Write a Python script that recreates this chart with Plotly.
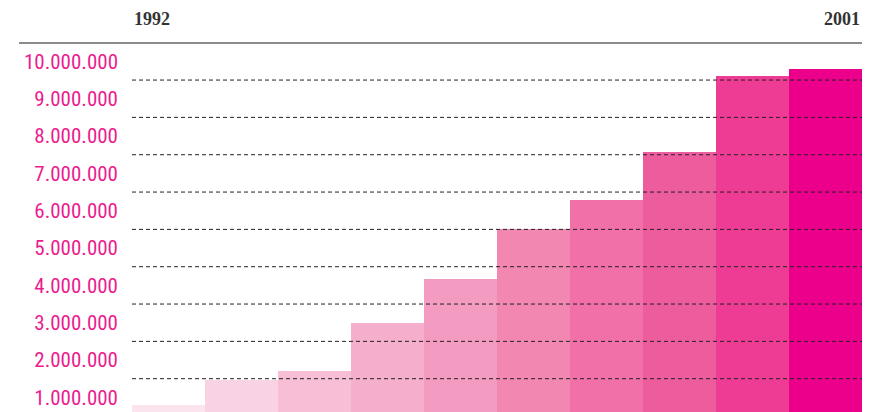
import plotly.graph_objects as go

years = [1992, 1993, 1994, 1995, 1996, 1997, 1998, 1999, 2000, 2001]
values = [800000, 1465000, 1705000, 3000000, 4180000, 5500000, 6290000, 7570000, 9610000, 9800000]
bar_colors = ["#FBE4EE", "#F9D3E3", "#F7BED6", "#F5AECC", "#F39BC0", "#F287B2",
              "#F070A7", "#ED5C9D", "#EE3B94", "#EC008B"]
tick_vals = [1000000 * i for i in range(1, 11)]
tick_text = ["1.000.000", "2.000.000", "3.000.000", "4.000.000", "5.000.000",
             "6.000.000", "7.000.000", "8.000.000", "9.000.000", "10.000.000"]
grid_vals = [1500000, 2500000, 3500000, 4500000, 5500000, 6500000, 7500000, 8500000, 9500000]
y_range = [608000, 10466000]

fig = go.Figure()
fig.add_trace(go.Bar(x=years, y=values, marker=dict(color=bar_colors, line=dict(width=0)),
                     width=1.0, hoverinfo="skip"))

shapes = []
for g in grid_vals:
    shapes.append(dict(type="line", xref="paper", yref="y", x0=0, x1=1, y0=g, y1=g,
                       line=dict(color="#222222", width=1, dash="4px,3px"), layer="above"))
shapes.append(dict(type="line", xref="paper", yref="paper", x0=-0.1548, x1=1,
                   y0=1.0027, y1=1.0027, line=dict(color="#8C8C8C", width=2)))

fig.update_layout(
    width=878, height=412,
    margin=dict(l=132, r=16, t=44, b=0),
    paper_bgcolor="white", plot_bgcolor="white",
    showlegend=False, bargap=0,
    shapes=shapes,
    xaxis=dict(range=[years[0] - 0.5, years[-1] + 0.5], showticklabels=False, showgrid=False,
               zeroline=False, showline=False, ticks=""),
    yaxis=dict(range=y_range, tickvals=tick_vals, ticktext=tick_text, showgrid=False,
               zeroline=False, showline=False, ticks="", ticklabelstandoff=13,
               tickfont=dict(family="Liberation Sans Narrow, Roboto Condensed, Roboto", size=21,
                             color="#EC1C8E")),
    annotations=[
        dict(x=years[0] - 0.5, xref="x", y=1.0, yref="paper", yshift=25, text="1992",
             showarrow=False, xanchor="left", yanchor="middle",
             font=dict(family="Liberation Serif", size=18, color="#333333", weight="bold")),
        dict(x=years[-1] + 0.5, xref="x", y=1.0, yref="paper", yshift=25, text="2001",
             showarrow=False, xanchor="right", yanchor="middle",
             font=dict(family="Liberation Serif", size=18, color="#333333", weight="bold")),
    ],
)

fig.write_html("out.html", config={"displayModeBar": False},
               post_script="document.body.style.margin='0';document.body.style.overflow='hidden';")
